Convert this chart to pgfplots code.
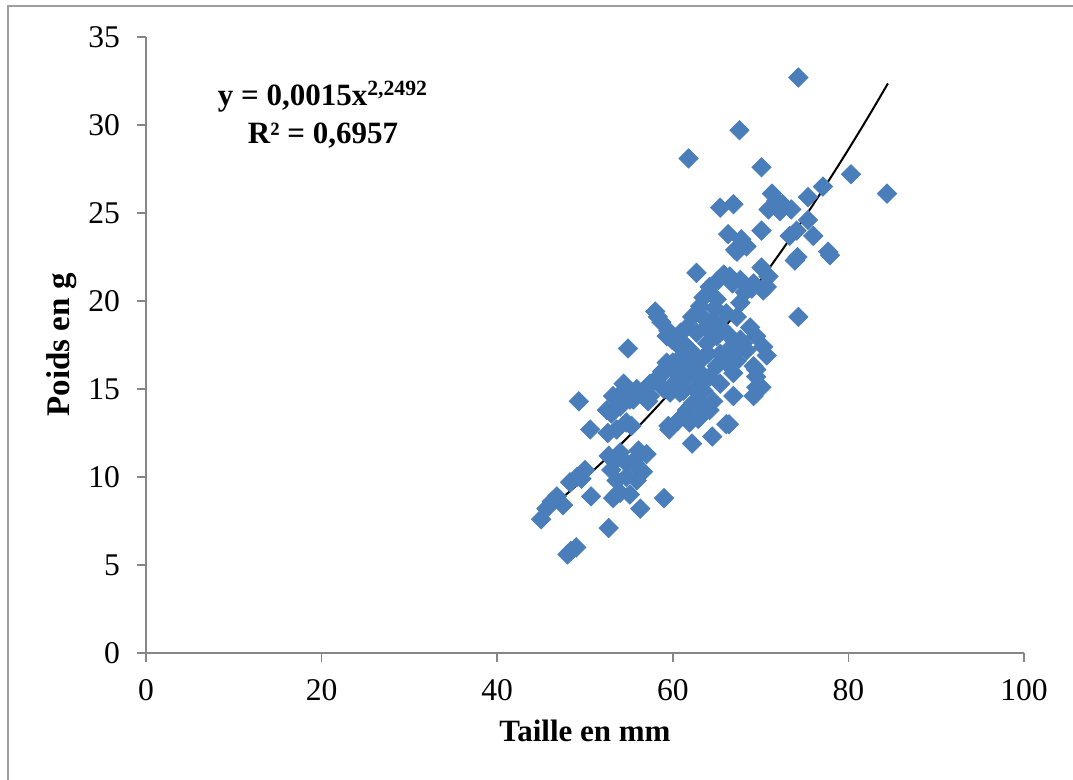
\documentclass[border=0pt]{standalone}
\usepackage{fontspec}
\setmainfont{Liberation Serif}
\usepackage{pgfplots}
\pgfplotsset{compat=1.18}
\definecolor{ptblue}{HTML}{4A7EBB}
\definecolor{axgray}{HTML}{868686}
\begin{document}
\begin{tikzpicture}
\useasboundingbox (0pt,0pt) rectangle (536.5pt,390pt);
\draw[axgray!80,line width=1pt] (4pt,0pt) -- (4pt,387pt) -- (536.5pt,387pt);
\begin{axis}[
  at={(73pt,63.5pt)}, anchor=south west,
  scale only axis, width=439pt, height=308pt,
  xmin=0, xmax=100, ymin=0, ymax=35,
  xtick={0,20,...,100}, ytick={0,5,...,35},
  axis lines=left, axis line style={axgray, line width=0.9pt, -},
  tick style={axgray, line width=0.9pt},
  tick align=outside, major tick length=4.5pt,
  /pgf/number format/assume math mode=true,
  tick label style={font=\fontsize{15.8}{18}\selectfont},
  xticklabel style={yshift=-5pt},
  yticklabel style={xshift=-5pt},
  xlabel={\textbf{Taille en mm}}, ylabel={\textbf{Poids en g}},
  xlabel style={font=\fontsize{15.5}{18}\selectfont, yshift=-3pt},
  ylabel style={font=\fontsize{16.5}{18}\selectfont, yshift=-1pt},
  clip=false,
]
\addplot[only marks, mark=square*, mark size=3.4pt, mark options={rotate=45, fill=ptblue, draw=ptblue}] coordinates {
(45.0,7.6) (45.6,8.2) (46.2,8.6) (46.8,8.9) (47.5,8.4) (48.0,5.6) (48.4,5.8) (49.0,6.0)
(48.3,9.7) (49.1,10.0) (50.0,10.4) (49.6,9.9) (50.7,8.9) (49.3,14.3) (50.6,12.7) (52.7,7.1)
(53.2,8.8) (53.6,9.0) (54.0,9.1) (55.1,9.0) (56.3,8.2) (59.0,8.8) (53.6,9.8) (53.0,10.4)
(54.7,10.0) (55.9,9.8) (56.2,10.4) (56.6,10.3) (55.7,11.0) (57.0,11.3) (56.1,11.5) (54.0,11.4)
(52.7,11.2) (54.7,10.8) (53.4,10.9) (52.6,12.5) (53.6,12.7) (54.7,13.1) (55.3,12.9) (53.0,13.6)
(54.0,14.0) (53.2,14.6) (54.4,14.9) (55.1,14.4) (54.4,15.3) (55.9,15.0) (57.2,14.3) (57.4,14.6)
(58.0,15.5) (57.4,15.3) (56.7,14.9) (58.5,15.7) (59.5,12.9) (59.6,12.7) (60.6,13.2) (61.6,13.8)
(62.3,14.2) (59.7,14.8) (60.8,15.1) (55.5,14.4) (52.5,13.8) (54.9,17.3) (58.0,19.4) (58.3,19.1)
(58.7,18.8) (59.5,18.3) (59.9,17.8) (59.3,18.0) (60.4,17.6) (61.6,18.5) (60.9,18.2) (62.2,19.1)
(63.1,19.7) (63.5,20.2) (64.2,20.8) (65.2,21.2) (65.8,21.5) (66.5,21.4) (67.7,21.2) (69.2,21.0)
(70.7,20.8) (70.3,20.6) (62.7,21.6) (65.0,20.1) (67.7,19.9) (67.3,19.1) (68.8,18.5) (69.5,18.0)
(70.3,17.4) (70.7,16.9) (69.2,16.3) (69.5,16.1) (69.5,15.7) (66.1,19.3) (64.6,18.9) (65.0,18.0)
(66.5,18.0) (67.7,17.8) (68.4,17.2) (67.3,16.6) (66.1,16.5) (66.9,15.9) (66.9,14.6) (69.5,15.1)
(70.1,15.1) (69.2,14.6) (66.1,13.0) (66.4,13.0) (63.5,14.9) (63.1,14.2) (64.2,13.8) (64.6,14.3)
(62.0,14.0) (62.9,13.3) (61.9,13.1) (60.8,14.8) (60.1,15.3) (59.3,16.5) (60.8,16.6) (62.0,17.2)
(61.2,17.6) (62.7,18.2) (60.4,15.9) (61.6,15.7) (62.3,16.3) (63.5,16.8) (63.9,17.6) (64.2,15.7)
(65.4,15.3) (65.0,16.3) (65.4,17.0) (61.2,14.9) (62.2,11.9) (64.5,12.3) (63.8,18.5) (64.8,19.6)
(63.3,15.5) (62.5,15.0) (61.0,16.1) (59.0,15.0) (58.8,16.0) (60.0,16.5) (63.0,16.0) (64.0,17.0)
(65.5,18.5) (66.5,17.3) (67.0,17.0) (68.0,17.6) (66.8,21.0) (68.2,20.5) (69.0,20.7) (62.4,16.8)
(63.6,19.0) (64.4,18.2) (61.3,17.0)
(74.3,32.7) (67.6,29.7) (61.8,28.1) (70.1,27.6) (80.3,27.2) (84.4,26.1) (77.1,26.5) (75.4,25.9)
(71.3,26.1) (71.8,25.7) (70.9,25.2) (72.5,25.5) (73.5,25.2) (75.4,24.6) (74.1,24.0) (73.3,23.7)
(76.0,23.7) (77.7,22.8) (77.9,22.6) (73.9,22.3) (74.2,22.5) (65.4,25.3) (66.9,25.5) (66.3,23.8)
(67.8,23.5) (68.4,23.1) (67.1,22.9) (70.1,24.0) (70.1,21.9) (70.9,21.4) (67.3,22.8) (74.3,19.1)
(72.2,25.1)
};
\addplot[black, line width=1pt, smooth] coordinates {
(45,7.843) (47.5,8.857) (50,9.940) (52.5,11.093) (55,12.317) (57.5,13.613) (60,14.980)
(62.5,16.419) (65,17.934) (67.5,19.523) (70,21.19) (72.5,22.928) (75,24.745) (77.5,26.638)
(80,28.61) (82.5,30.66) (84.5,32.36)
};
\end{axis}
\node[font=\fontsize{15.5}{18}\selectfont\bfseries, align=center] at (161.5pt,332.5pt)
  {y = 0,0015x\textsuperscript{2,2492}\\[1pt] R² = 0,6957};
\end{tikzpicture}
\end{document}
